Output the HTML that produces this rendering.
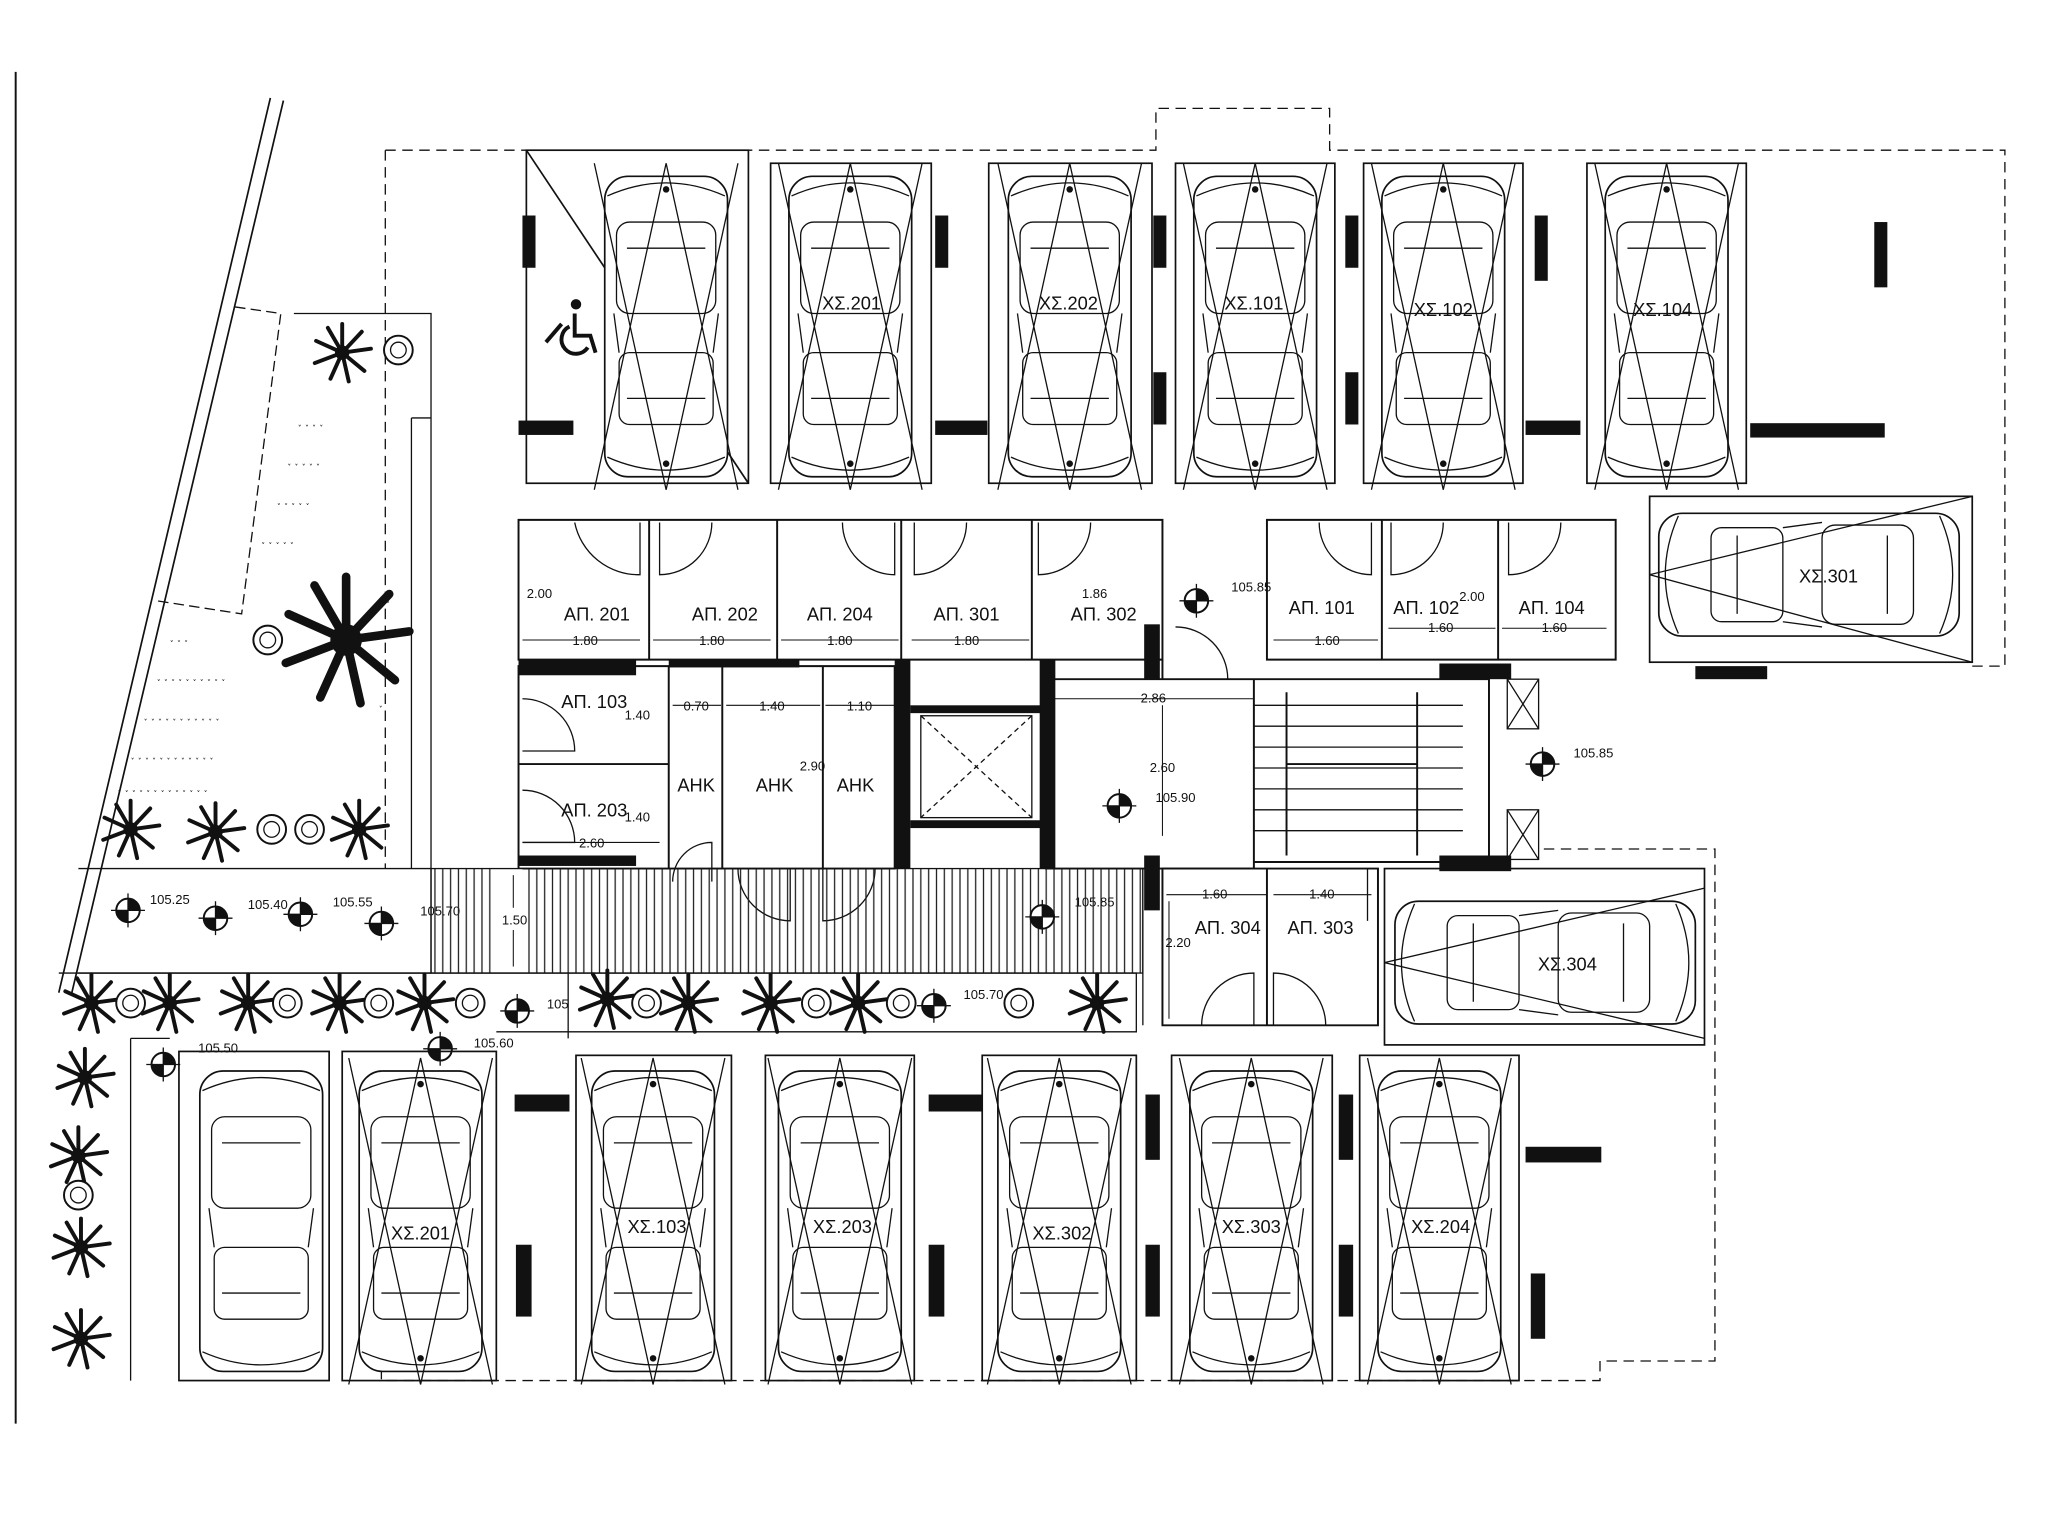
<!DOCTYPE html>
<html><head><meta charset="utf-8"><style>
html,body{margin:0;padding:0;background:#fff;width:2048px;height:1536px;overflow:hidden}
svg{display:block}
text{font-family:"Liberation Sans",sans-serif;fill:#111}
</style></head><body>
<svg width="2048" height="1536" viewBox="0 0 1568 1176" xmlns="http://www.w3.org/2000/svg">
<defs>
<g id="car">
 <rect x="-47" y="-115" width="94" height="230" rx="18" fill="#fff" stroke="#111" stroke-width="1.3"/>
 <rect x="-38" y="-80" width="76" height="70" rx="10" fill="none" stroke="#111"/>
 <rect x="-36" y="20" width="72" height="55" rx="8" fill="none" stroke="#111"/>
 <path d="M-40,-10 L-36,20 M40,-10 L36,20 M-45,-100 Q0,-120 45,-100 M-45,100 Q0,120 45,100" fill="none" stroke="#111"/>
 <path d="M-30,-60 L30,-60 M-30,55 L30,55" stroke="#111"/>
</g>
<g id="carX">
 <use href="#car"/>
 <path d="M-55,-125 L0,125 L55,-125 M-55,125 L0,-125 L55,125" fill="none" stroke="#111" stroke-width="1"/>
 <circle cx="0" cy="-105" r="2.5" fill="#111"/><circle cx="0" cy="105" r="2.5" fill="#111"/>
</g>
<g id="palm" stroke="#111" stroke-width="3" stroke-linecap="round">
 <path d="M0,0L0,-22M0,0L15,-16M0,0L22,-3M0,0L17,14M0,0L5,22M0,0L-9,20M0,0L-21,8M0,0L-20,-9M0,0L-11,-19"/>
 <circle r="4" fill="#111"/>
</g>
<g id="bush"><circle r="11" fill="#fff" stroke="#111" stroke-width="1.5"/><circle r="6" fill="none" stroke="#111"/></g>
<g id="lvl"><circle r="9" fill="#fff" stroke="#111" stroke-width="1.5"/><path d="M0,-9A9,9 0 0 1 9,0L0,0Z M0,9A9,9 0 0 1 -9,0L0,0Z" fill="#111"/><path d="M-13,0H13M0,-13V13" stroke="#111"/></g>
<pattern id="hatch" width="6" height="10" patternUnits="userSpaceOnUse"><path d="M3,0V10" stroke="#222" stroke-width="1"/></pattern>
</defs>

<path d="M12,55V1090" stroke="#111" stroke-width="1.5"/>
<path d="M207,75L45,760 M217,77L55,760" stroke="#111" stroke-width="1.3"/>
<path d="M180,235L215,240L185,470L120,460" fill="none" stroke="#111" stroke-dasharray="8,4"/>
<path d="M225,240H330V665 M315,320V665 M330,320H315" fill="none" stroke="#111"/>
<path d="M60,665H330 M45,745H330 M100,795V1057 M100,795H130" fill="none" stroke="#111"/>

<path d="M295,115H885V83H1018V115H1535V510H1510" fill="none" stroke="#111" stroke-dasharray="8,5"/>
<path d="M295,115V665" fill="none" stroke="#111" stroke-dasharray="8,5"/>
<path d="M1182,650H1313V1042H1225V1057H292V1045" fill="none" stroke="#111" stroke-dasharray="8,5"/>

<g fill="none" stroke="#111" stroke-width="1.3">
<rect x="403" y="115" width="170" height="255"/>
<path d="M403,115L573,370"/>
<rect x="590" y="125" width="123" height="245"/>
<rect x="757" y="125" width="125" height="245"/>
<rect x="900" y="125" width="122" height="245"/>
<rect x="1044" y="125" width="122" height="245"/>
<rect x="1215" y="125" width="122" height="245"/>
</g>
<use href="#carX" x="510" y="250"/>
<use href="#carX" x="651" y="250"/>
<use href="#carX" x="819" y="250"/>
<use href="#carX" x="961" y="250"/>
<use href="#carX" x="1105" y="250"/>
<use href="#carX" x="1276" y="250"/>
<g fill="#111">
<rect x="400" y="165" width="10" height="40"/><rect x="397" y="322" width="42" height="11"/>
<rect x="716" y="165" width="10" height="40"/><rect x="716" y="322" width="40" height="11"/>
<rect x="883" y="165" width="10" height="40"/><rect x="883" y="285" width="10" height="40"/>
<rect x="1030" y="165" width="10" height="40"/><rect x="1030" y="285" width="10" height="40"/>
<rect x="1175" y="165" width="10" height="50"/><rect x="1168" y="322" width="42" height="11"/>
<rect x="1435" y="170" width="10" height="50"/><rect x="1340" y="324" width="103" height="11"/>
</g>
<!-- wheelchair -->
<g fill="none" stroke="#111" stroke-width="3">
<circle cx="441" cy="233" r="4" fill="#111" stroke="none"/>
<path d="M440,240V257H452L456,270"/>
<path d="M436,250A11,11 0 1 0 450,266"/>
<path d="M418,262L430,248"/>
</g>
<g font-size="14" text-anchor="middle">
<text x="652" y="237">ΧΣ.201</text><text x="818" y="237">ΧΣ.202</text><text x="960" y="237">ΧΣ.101</text><text x="1105" y="242">ΧΣ.102</text><text x="1273" y="242">ΧΣ.104</text>
</g>

<rect x="1263" y="380" width="247" height="127" fill="none" stroke="#111" stroke-width="1.3"/>
<g transform="translate(1385,440) rotate(90)"><use href="#car"/></g>
<path d="M1263,440L1510,380M1263,440L1510,507" stroke="#111"/>
<text x="1400" y="446" font-size="14" text-anchor="middle">ΧΣ.301</text>
<rect x="1298" y="510" width="55" height="10" fill="#111"/>
<rect x="1060" y="665" width="245" height="135" fill="none" stroke="#111" stroke-width="1.3"/>
<g transform="translate(1183,737) rotate(90)"><use href="#car"/></g>
<path d="M1060,737L1305,680M1060,737L1305,795" stroke="#111"/>
<text x="1200" y="743" font-size="14" text-anchor="middle">ΧΣ.304</text>

<g fill="none" stroke="#111" stroke-width="1.5">
<path d="M397,398H890V505H397Z M497,398V505 M595,398V505 M690,398V505 M790,398V505"/>
<path d="M970,398H1237V505H970Z M1058,398V505 M1147,398V505"/>
<path d="M397,510H685V665H397Z M512,510V665 M553,510V665 M630,510V665 M397,585H512"/>
<path d="M890,520V505 M890,665H1055V785H890Z M970,665V785"/>
<path d="M800,520H960V665H800 M960,520H1140V660H960"/>
</g>
<g fill="#111">
<rect x="397" y="505" width="90" height="12"/><rect x="512" y="505" width="100" height="6"/>
<rect x="685" y="505" width="12" height="160"/><rect x="796" y="505" width="12" height="160"/>
<rect x="697" y="540" width="100" height="6"/><rect x="697" y="628" width="100" height="6"/>
<rect x="876" y="478" width="12" height="42"/><rect x="876" y="655" width="12" height="42"/>
<rect x="1102" y="508" width="55" height="12"/><rect x="1102" y="655" width="55" height="12"/>
<rect x="397" y="655" width="90" height="8"/>
</g>
<rect x="705" y="548" width="85" height="78" fill="none" stroke="#111"/>
<path d="M705,548L790,626M790,548L705,626" stroke="#111" stroke-dasharray="4,3"/>
<g stroke="#111">
<path d="M960,540H1120M960,556H1120M960,572H1120M960,588H1120M960,604H1120M960,620H1120M960,636H1120"/>
<path d="M985,530V655M1085,530V655M985,585H1085" stroke-width="1.5"/>
</g>
<rect x="1154" y="520" width="24" height="38" fill="none" stroke="#111"/><path d="M1154,520L1178,558M1178,520L1154,558" stroke="#111"/>
<rect x="1154" y="620" width="24" height="38" fill="none" stroke="#111"/><path d="M1154,620L1178,658M1178,620L1154,658" stroke="#111"/>
<g fill="none" stroke="#111">
<path d="M440,400A50,50 0 0 0 490,440V400 M505,400V440A40,40 0 0 0 545,400 M645,400A40,40 0 0 0 685,440V400 M700,400V440A40,40 0 0 0 740,400 M795,400V440A40,40 0 0 0 835,400"/>
<path d="M1010,400A40,40 0 0 0 1050,440V400 M1065,400V440A40,40 0 0 0 1105,400 M1155,400V440A40,40 0 0 0 1195,400"/>
<path d="M400,535A40,40 0 0 1 440,575H400 M400,605A40,40 0 0 1 440,645H400 M515,675A30,30 0 0 1 545,645V675"/>
<path d="M565,665A40,40 0 0 0 605,705V665 M630,665V705A40,40 0 0 0 670,665 M900,480A40,40 0 0 1 940,520H900"/>
<path d="M920,785A40,40 0 0 1 960,745V785 M975,785V745A40,40 0 0 1 1015,785 M1047,665V705"/>
</g>
<g font-size="14" text-anchor="middle">
<text x="457" y="475">ΑΠ. 201</text><text x="555" y="475">ΑΠ. 202</text><text x="643" y="475">ΑΠ. 204</text><text x="740" y="475">ΑΠ. 301</text><text x="845" y="475">ΑΠ. 302</text>
<text x="1012" y="470">ΑΠ. 101</text><text x="1092" y="470">ΑΠ. 102</text><text x="1188" y="470">ΑΠ. 104</text>
<text x="455" y="542">ΑΠ. 103</text><text x="455" y="625">ΑΠ. 203</text>
<text x="533" y="606">ΑΗΚ</text><text x="593" y="606">ΑΗΚ</text><text x="655" y="606">ΑΗΚ</text>
<text x="940" y="715">ΑΠ. 304</text><text x="1011" y="715">ΑΠ. 303</text>
</g>
<rect x="380" y="665" width="20" height="80" fill="#fff"/>
<g font-size="10" text-anchor="middle">
<text x="413" y="458">2.00</text><text x="448" y="494">1.80</text><text x="545" y="494">1.80</text><text x="643" y="494">1.80</text><text x="740" y="494">1.80</text><text x="838" y="458">1.86</text>
<text x="1016" y="494">1.60</text><text x="1103" y="484">1.60</text><text x="1190" y="484">1.60</text><text x="1127" y="460">2.00</text>
<text x="488" y="551">1.40</text><text x="533" y="544">0.70</text><text x="591" y="544">1.40</text><text x="658" y="544">1.10</text>
<text x="488" y="629">1.40</text><text x="453" y="649">2.60</text><text x="622" y="590">2.90</text>
<text x="883" y="538">2.86</text><text x="890" y="591">2.60</text><text x="900" y="614">105.90</text>
<text x="958" y="453">105.85</text><text x="1220" y="580">105.85</text>
<text x="930" y="688">1.60</text><text x="1012" y="688">1.40</text><text x="902" y="725">2.20</text>
<text x="394" y="708">1.50</text>
<text x="130" y="692">105.25</text><text x="205" y="696">105.40</text><text x="270" y="694">105.55</text><text x="337" y="701">105.70</text>
<text x="838" y="694">105.85</text><text x="753" y="765">105.70</text><text x="427" y="772">105</text>
<text x="167" y="806">105.50</text><text x="378" y="802">105.60</text>
</g>
<g stroke="#111" stroke-width="0.8" fill="none">
<path d="M400,490H490 M500,490H590 M598,490H688 M698,490H788 M975,490H1055 M1063,481H1145 M1150,481H1230 M515,540H552 M556,540H628 M632,540H685 M400,645H505 M800,535H960 M890,540V640 M893,685H970 M975,685H1050 M895,690V780 M393,670V695 M393,712V740"/>
</g>

<rect x="330" y="665" width="50" height="80" fill="url(#hatch)"/>
<rect x="400" y="665" width="475" height="80" fill="url(#hatch)"/>
<rect x="330" y="665" width="545" height="80" fill="none" stroke="#111"/>
<path d="M330,665V745 M875,665V785" stroke="#111"/>
<path d="M60,745H870V790H380 M435,745V795" fill="none" stroke="#111"/>

<use href="#lvl" x="98" y="697"/><use href="#lvl" x="165" y="703"/><use href="#lvl" x="230" y="700"/><use href="#lvl" x="292" y="707"/>
<use href="#lvl" x="798" y="702"/><use href="#lvl" x="715" y="770"/><use href="#lvl" x="396" y="774"/>
<use href="#lvl" x="125" y="815"/><use href="#lvl" x="337" y="803"/>
<use href="#lvl" x="916" y="460"/><use href="#lvl" x="857" y="617"/><use href="#lvl" x="1181" y="585"/>

<g fill="none" stroke="#111" stroke-width="1.3">
<rect x="137" y="805" width="115" height="252"/><rect x="262" y="805" width="118" height="252"/>
<rect x="441" y="808" width="119" height="249"/><rect x="586" y="808" width="114" height="249"/>
<rect x="752" y="808" width="118" height="249"/><rect x="897" y="808" width="123" height="249"/>
<rect x="1041" y="808" width="122" height="249"/>
</g>
<use href="#car" x="200" y="935"/>
<use href="#carX" x="322" y="935"/><use href="#carX" x="500" y="935"/><use href="#carX" x="643" y="935"/>
<use href="#carX" x="811" y="935"/><use href="#carX" x="958" y="935"/><use href="#carX" x="1102" y="935"/>
<g font-size="14" text-anchor="middle">
<text x="322" y="949">ΧΣ.201</text><text x="503" y="944">ΧΣ.103</text><text x="645" y="944">ΧΣ.203</text><text x="813" y="949">ΧΣ.302</text><text x="958" y="944">ΧΣ.303</text><text x="1103" y="944">ΧΣ.204</text>
</g>
<g fill="#111">
<rect x="394" y="838" width="42" height="13"/><rect x="395" y="953" width="12" height="55"/>
<rect x="711" y="838" width="41" height="13"/><rect x="711" y="953" width="12" height="55"/>
<rect x="877" y="838" width="11" height="50"/><rect x="877" y="953" width="11" height="55"/>
<rect x="1025" y="838" width="11" height="50"/><rect x="1025" y="953" width="11" height="55"/>
<rect x="1168" y="878" width="58" height="12"/><rect x="1172" y="975" width="11" height="50"/>
</g>

<use href="#palm" x="262" y="270"/><use href="#bush" x="305" y="268"/>
<use href="#bush" x="205" y="490"/>
<g transform="translate(265,490) scale(2.2)"><use href="#palm"/></g>
<use href="#palm" x="100" y="635"/><use href="#palm" x="165" y="637"/><use href="#bush" x="208" y="635"/><use href="#bush" x="237" y="635"/><use href="#palm" x="275" y="635"/>
<use href="#palm" x="70" y="768"/><use href="#bush" x="100" y="768"/><use href="#palm" x="130" y="768"/><use href="#palm" x="190" y="768"/><use href="#bush" x="220" y="768"/><use href="#palm" x="260" y="768"/><use href="#bush" x="290" y="768"/><use href="#palm" x="325" y="768"/><use href="#bush" x="360" y="768"/>
<use href="#palm" x="465" y="765"/><use href="#bush" x="495" y="768"/><use href="#palm" x="527" y="768"/><use href="#palm" x="590" y="768"/><use href="#bush" x="625" y="768"/><use href="#palm" x="657" y="768"/><use href="#bush" x="690" y="768"/><use href="#bush" x="780" y="768"/><use href="#palm" x="840" y="768"/>
<use href="#palm" x="65" y="825"/><use href="#palm" x="60" y="885"/><use href="#bush" x="60" y="915"/><use href="#palm" x="62" y="955"/><use href="#palm" x="62" y="1025"/>
<g font-size="9" fill="#444">
<text x="228" y="325">˯ ˯ ˯ ˯</text><text x="220" y="355">˯ ˯ ˯ ˯ ˯</text><text x="212" y="385">˯ ˯ ˯ ˯ ˯</text><text x="200" y="415">˯ ˯ ˯ ˯ ˯</text>
<text x="120" y="520">˯ ˯ ˯ ˯ ˯ ˯ ˯ ˯ ˯ ˯</text><text x="110" y="550">˯ ˯ ˯ ˯ ˯ ˯ ˯ ˯ ˯ ˯ ˯</text><text x="100" y="580">˯ ˯ ˯ ˯ ˯ ˯ ˯ ˯ ˯ ˯ ˯ ˯</text><text x="90" y="605">˯ ˯ ˯ ˯ ˯ ˯ ˯ ˯ ˯ ˯ ˯ ˯ ˯</text>
<text x="130" y="490">˯ ˯ ˯</text><text x="290" y="460">˯ ˯</text><text x="290" y="540">˯</text>
</g>
</svg>
</body></html>
